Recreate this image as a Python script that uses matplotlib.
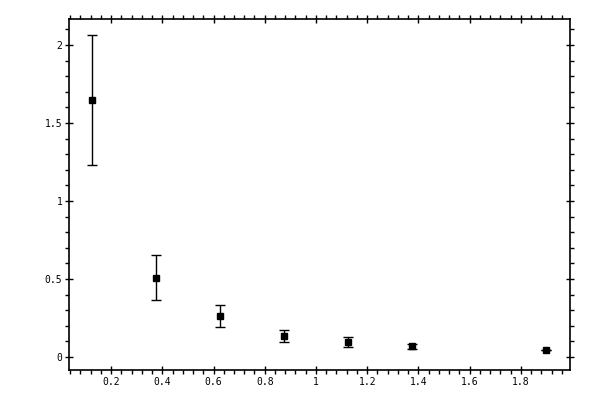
import matplotlib
matplotlib.use('Agg')
import matplotlib.pyplot as plt
from matplotlib.ticker import MultipleLocator, FormatStrFormatter

# data
x_vals = [0.125, 0.375, 0.625, 0.875, 1.125, 1.375, 1.9]
y_vals = [1.647, 0.508, 0.261, 0.134, 0.097, 0.070, 0.043]
y_errs = [0.415, 0.145, 0.070, 0.037, 0.030, 0.016, 0.0]

fig = plt.figure(figsize=(6, 4), dpi=100)
ax = fig.add_axes([0.1155, 0.075, 0.835, 0.877])

ax.errorbar(x_vals, y_vals, yerr=y_errs, fmt='s', color='black',
            markersize=5, elinewidth=1.0, capsize=3.5, capthick=1.0)

ax.set_xlim(0.037, 1.993)
ax.set_ylim(-0.083, 2.165)

ax.xaxis.set_major_locator(MultipleLocator(0.2))
ax.xaxis.set_minor_locator(MultipleLocator(0.04))
ax.yaxis.set_major_locator(MultipleLocator(0.5))
ax.yaxis.set_minor_locator(MultipleLocator(0.1))
ax.xaxis.set_major_formatter(FormatStrFormatter('%g'))
ax.yaxis.set_major_formatter(FormatStrFormatter('%g'))

for s in ax.spines.values():
    s.set_linewidth(1.2)

ax.tick_params(which='major', direction='inout', length=6, width=1.0,
               top=True, right=True, labelsize=7, pad=2)
ax.tick_params(which='minor', direction='out', length=3, width=1.0,
               top=True, right=True)
for lab in ax.get_xticklabels() + ax.get_yticklabels():
    lab.set_family('DejaVu Sans Mono')

plt.savefig('out.png', dpi=100)
plt.close(fig)
